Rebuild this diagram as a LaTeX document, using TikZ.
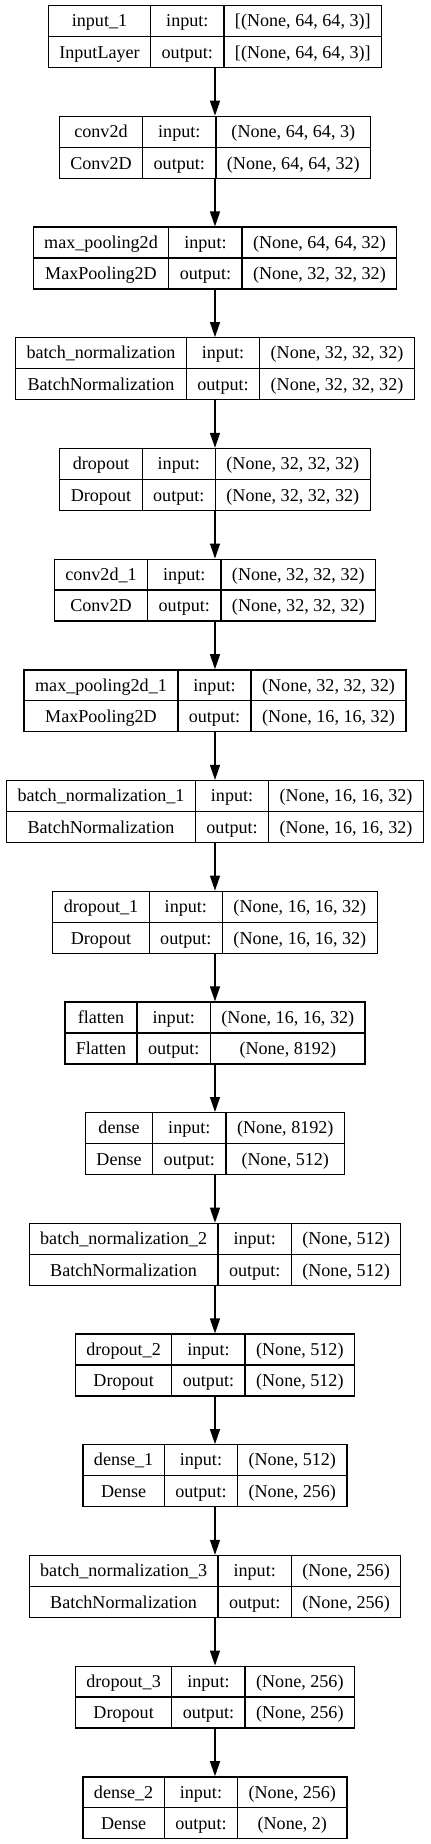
\documentclass[tikz,border=0pt]{standalone}
\usepackage{fontspec}
\setmainfont{Liberation Serif}
\usetikzlibrary{positioning,arrows.meta}

\setlength{\tabcolsep}{5.5pt}
\setlength{\arrayrulewidth}{0.65pt}
\newcommand{\rowstrut}{\rule[-4.55pt]{0pt}{15.15pt}}
\newcommand{\layerrec}[4]{%
  \begin{tabular}{c|c|c}
    \rowstrut#1 & input: & #3\\ \hline
    \rowstrut#2 & output: & #4
  \end{tabular}}

\begin{document}
\begin{tikzpicture}
    [
      layer/.style={draw, line width=0.65pt, inner sep=0pt, font=\fontsize{9.05}{11}\selectfont},
      flow/.style={-{Triangle[length=7.5pt,width=5pt]}, line width=0.65pt},
      node distance=23.75pt
    ]
    \useasboundingbox (-107.5pt,2.5pt) rectangle (108pt,-919.5pt);
    \node (in) [layer, anchor=north] at (0,0) {\layerrec{input\_1}{InputLayer}{[(None, 64, 64, 3)]}{[(None, 64, 64, 3)]}};
    \node (conv) [below=of in, layer] {\layerrec{conv2d}{Conv2D}{(None, 64, 64, 3)}{(None, 64, 64, 32)}};
    \node (pool) [below=of conv, layer] {\layerrec{max\_pooling2d}{MaxPooling2D}{(None, 64, 64, 32)}{(None, 32, 32, 32)}};
    \node (bn) [below=of pool, layer] {\layerrec{batch\_normalization}{BatchNormalization}{(None, 32, 32, 32)}{(None, 32, 32, 32)}};
    \node (drop) [below=of bn, layer] {\layerrec{dropout}{Dropout}{(None, 32, 32, 32)}{(None, 32, 32, 32)}};
    \node (convb) [below=of drop, layer] {\layerrec{conv2d\_1}{Conv2D}{(None, 32, 32, 32)}{(None, 32, 32, 32)}};
    \node (poolb) [below=of convb, layer] {\layerrec{max\_pooling2d\_1}{MaxPooling2D}{(None, 32, 32, 32)}{(None, 16, 16, 32)}};
    \node (bnb) [below=of poolb, layer] {\layerrec{batch\_normalization\_1}{BatchNormalization}{(None, 16, 16, 32)}{(None, 16, 16, 32)}};
    \node (dropb) [below=of bnb, layer] {\layerrec{dropout\_1}{Dropout}{(None, 16, 16, 32)}{(None, 16, 16, 32)}};
    \node (flat) [below=of dropb, layer] {\layerrec{flatten}{Flatten}{(None, 16, 16, 32)}{(None, 8192)}};
    \node (dense) [below=of flat, layer] {\layerrec{dense}{Dense}{(None, 8192)}{(None, 512)}};
    \node (bnc) [below=of dense, layer] {\layerrec{batch\_normalization\_2}{BatchNormalization}{(None, 512)}{(None, 512)}};
    \node (dropc) [below=of bnc, layer] {\layerrec{dropout\_2}{Dropout}{(None, 512)}{(None, 512)}};
    \node (denseb) [below=of dropc, layer] {\layerrec{dense\_1}{Dense}{(None, 512)}{(None, 256)}};
    \node (bnd) [below=of denseb, layer] {\layerrec{batch\_normalization\_3}{BatchNormalization}{(None, 256)}{(None, 256)}};
    \node (dropd) [below=of bnd, layer] {\layerrec{dropout\_3}{Dropout}{(None, 256)}{(None, 256)}};
    \node (densec) [below=of dropd, layer] {\layerrec{dense\_2}{Dense}{(None, 256)}{(None, 2)}};
    \foreach \i/\j in {in/conv,conv/pool,pool/bn,bn/drop,drop/convb,convb/poolb,poolb/bnb,bnb/dropb,
                       dropb/flat,flat/dense,dense/bnc,bnc/dropc,dropc/denseb,denseb/bnd,bnd/dropd,dropd/densec}
      \draw [flow] (\i) -- (\j);
\end{tikzpicture}
\end{document}
